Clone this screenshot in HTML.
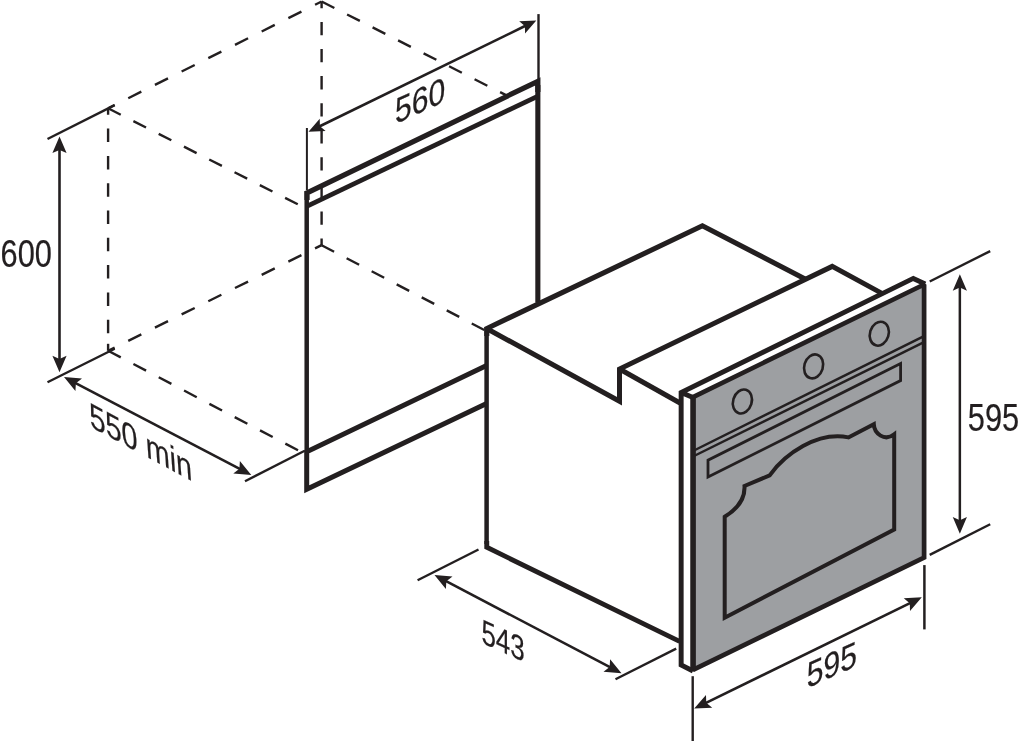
<!DOCTYPE html>
<html><head><meta charset="utf-8"><title>Oven dimensions</title>
<style>
html,body{margin:0;padding:0;background:#fff;}
svg{display:block;will-change:transform;font-family:"Liberation Sans",sans-serif;}
</style></head><body>
<svg width="1019" height="741" viewBox="0 0 1019 741">
<rect width="1019" height="741" fill="#fff"/>
<line x1="321.60" y1="1.50" x2="108.10" y2="108.30" stroke="#231f20" stroke-width="2.4" stroke-linecap="butt" stroke-dasharray="14.62 15.22" stroke-dashoffset="7.31"/>
<line x1="321.60" y1="1.50" x2="321.60" y2="245.20" stroke="#231f20" stroke-width="2.4" stroke-linecap="butt" stroke-dasharray="13.27 13.81" stroke-dashoffset="6.63"/>
<line x1="108.10" y1="108.30" x2="108.10" y2="343.30" stroke="#231f20" stroke-width="2.4" stroke-linecap="butt" stroke-dasharray="13.5 13.8" stroke-dashoffset="7"/>
<line x1="108.10" y1="343.80" x2="108.10" y2="350.80" stroke="#231f20" stroke-width="2.4" stroke-linecap="butt"/>
<line x1="108.10" y1="350.80" x2="321.60" y2="245.20" stroke="#231f20" stroke-width="2.4" stroke-linecap="butt" stroke-dasharray="14.59 15.18" stroke-dashoffset="7.29"/>
<line x1="108.10" y1="108.30" x2="297.80" y2="204.30" stroke="#231f20" stroke-width="2.4" stroke-linecap="butt" stroke-dasharray="14.17 14.17" stroke-dashoffset="0"/>
<line x1="108.10" y1="350.80" x2="298.00" y2="450.20" stroke="#231f20" stroke-width="2.4" stroke-linecap="butt" stroke-dasharray="14.29 14.29" stroke-dashoffset="0"/>
<line x1="321.60" y1="245.20" x2="484.30" y2="330.00" stroke="#231f20" stroke-width="2.4" stroke-linecap="butt" stroke-dasharray="14.11 14.11" stroke-dashoffset="0"/>
<line x1="321.60" y1="1.50" x2="512.85" y2="98.66" stroke="#231f20" stroke-width="2.4" stroke-linecap="butt" stroke-dasharray="14.30 14.30" stroke-dashoffset="0"/>
<path d="M500,99 L538,81 L538,96 L500,114 Z" fill="#fff" stroke="none" stroke-width="0" stroke-linejoin="miter" stroke-linecap="butt" stroke-miterlimit="10"/>
<line x1="306.90" y1="128.00" x2="306.90" y2="190.00" stroke="#231f20" stroke-width="2.0" stroke-linecap="butt"/>
<line x1="538.50" y1="14.10" x2="538.50" y2="79.00" stroke="#231f20" stroke-width="2.4" stroke-linecap="butt"/>
<line x1="306.70" y1="191.00" x2="306.70" y2="452.00" stroke="#231f20" stroke-width="4.5" stroke-linecap="butt"/>
<path d="M307.05,200 L307.05,192.9 L537.85,81.3 L537.85,92" fill="none" stroke="#231f20" stroke-width="5.2" stroke-linejoin="miter" stroke-linecap="butt" stroke-miterlimit="10"/>
<line x1="537.85" y1="85.00" x2="537.85" y2="302.60" stroke="#231f20" stroke-width="5.1" stroke-linecap="butt"/>
<path d="M306.7,206.3 L538,96.1" fill="none" stroke="#231f20" stroke-width="4.7" stroke-linejoin="miter" stroke-linecap="butt" stroke-miterlimit="10"/>
<path d="M486.6,365.4 L306.7,451.7 L306.7,489.2 L486.6,403.5" fill="none" stroke="#231f20" stroke-width="5.0" stroke-linejoin="miter" stroke-linecap="butt" stroke-miterlimit="10"/>
<line x1="319.28" y1="126.53" x2="525.52" y2="25.77" stroke="#231f20" stroke-width="2.6" stroke-linecap="butt"/>
<polygon points="308.50,131.80 319.71,118.82 319.94,126.21 325.63,130.94" fill="#231f20"/>
<polygon points="536.30,20.50 525.09,33.48 524.86,26.09 519.17,21.36" fill="#231f20"/>
<line x1="47.50" y1="139.00" x2="114.70" y2="105.10" stroke="#231f20" stroke-width="2.4" stroke-linecap="butt"/>
<line x1="47.50" y1="382.20" x2="114.70" y2="348.70" stroke="#231f20" stroke-width="2.4" stroke-linecap="butt"/>
<line x1="59.50" y1="148.50" x2="59.50" y2="360.30" stroke="#231f20" stroke-width="2.6" stroke-linecap="butt"/>
<polygon points="59.50,136.50 66.60,153.10 59.50,149.90 52.40,153.10" fill="#231f20"/>
<polygon points="59.50,372.30 52.40,355.70 59.50,358.90 66.60,355.70" fill="#231f20"/>
<line x1="245.00" y1="481.30" x2="304.70" y2="450.80" stroke="#231f20" stroke-width="2.4" stroke-linecap="butt"/>
<line x1="74.63" y1="382.56" x2="240.67" y2="469.44" stroke="#231f20" stroke-width="2.6" stroke-linecap="butt"/>
<polygon points="64.00,377.00 82.00,378.40 75.87,383.21 75.42,390.99" fill="#231f20"/>
<polygon points="251.30,475.00 233.30,473.60 239.43,468.79 239.88,461.01" fill="#231f20"/>
<line x1="486.60" y1="327.00" x2="486.60" y2="544.00" stroke="#231f20" stroke-width="4.5" stroke-linecap="butt"/>
<path d="M486.8,336 L486.8,328.5 L702.4,225.8 L805.6,279.2" fill="none" stroke="#231f20" stroke-width="5.1" stroke-linejoin="miter" stroke-linecap="butt" stroke-miterlimit="10"/>
<path d="M486.75,541 L486.75,547.3 L679.6,641.4" fill="none" stroke="#231f20" stroke-width="4.9" stroke-linejoin="miter" stroke-linecap="butt" stroke-miterlimit="10"/>
<path d="M486.6,328.5 L619.5,401.2 L619.5,369 L832.2,266.4 L882.4,293.6" fill="none" stroke="#231f20" stroke-width="5.0" stroke-linejoin="miter" stroke-linecap="butt" stroke-miterlimit="10"/>
<path d="M619.5,369 L680,403" fill="none" stroke="#231f20" stroke-width="4.9" stroke-linejoin="miter" stroke-linecap="butt" stroke-miterlimit="10"/>
<path d="M693.0,397.1 L924.1,284.5 L924.1,557.6 L693.0,669.9 Z" fill="#9d9fa2" stroke="#231f20" stroke-width="4.7" stroke-linejoin="miter" stroke-linecap="butt" stroke-miterlimit="1.5"/>
<line x1="693.10" y1="398.00" x2="693.10" y2="669.00" stroke="#231f20" stroke-width="5.4" stroke-linecap="butt"/>
<path d="M693.0,671 L681.15,665 L681.15,392.5 L913.3,278.4 L925.2,284.0 M681.15,392.5 L693.0,397.5" fill="none" stroke="#231f20" stroke-width="4.95" stroke-linejoin="miter" stroke-linecap="butt" stroke-miterlimit="10"/>
<line x1="694.00" y1="450.50" x2="924.00" y2="336.20" stroke="#231f20" stroke-width="2.5" stroke-linecap="butt"/>
<line x1="694.00" y1="456.00" x2="924.00" y2="342.10" stroke="#231f20" stroke-width="2.5" stroke-linecap="butt"/>
<path d="M900.6,363.6 L900.6,380.6 L708,477 L708,460.2 Z" fill="none" stroke="#231f20" stroke-width="2.8" stroke-linejoin="miter" stroke-linecap="butt" stroke-miterlimit="10"/>
<ellipse cx="742.4" cy="401.5" rx="9.3" ry="12.2" transform="rotate(17 742.4 401.5)" fill="none" stroke="#231f20" stroke-width="2.6"/>
<ellipse cx="813.6" cy="366.4" rx="9.3" ry="12.2" transform="rotate(17 813.6 366.4)" fill="none" stroke="#231f20" stroke-width="2.6"/>
<ellipse cx="879.3" cy="333.7" rx="9.3" ry="12.2" transform="rotate(17 879.3 333.7)" fill="none" stroke="#231f20" stroke-width="2.6"/>
<path d="M724.7,617.8 L724.7,516.8 Q745.5,504 744.5,486 L769.7,475.3 C785,454 817,431.3 848.4,437.4 L873.8,424.2 C874.2,433.5 884.6,442 894.2,434.3 L894.2,529.5 Z" fill="none" stroke="#231f20" stroke-width="4.0" stroke-linejoin="miter" stroke-linecap="butt" stroke-miterlimit="10"/>
<line x1="929.70" y1="281.50" x2="990.20" y2="251.10" stroke="#231f20" stroke-width="2.4" stroke-linecap="butt"/>
<line x1="929.70" y1="554.90" x2="990.20" y2="524.20" stroke="#231f20" stroke-width="2.4" stroke-linecap="butt"/>
<line x1="959.85" y1="286.20" x2="959.85" y2="521.70" stroke="#231f20" stroke-width="2.5" stroke-linecap="butt"/>
<polygon points="959.85,274.20 966.95,290.80 959.85,287.60 952.75,290.80" fill="#231f20"/>
<polygon points="959.85,533.70 952.75,517.10 959.85,520.30 966.95,517.10" fill="#231f20"/>
<line x1="692.70" y1="676.20" x2="692.70" y2="741.00" stroke="#231f20" stroke-width="2.4" stroke-linecap="butt"/>
<line x1="924.40" y1="565.10" x2="924.40" y2="629.40" stroke="#231f20" stroke-width="2.5" stroke-linecap="butt"/>
<line x1="704.98" y1="703.33" x2="911.02" y2="602.57" stroke="#231f20" stroke-width="2.6" stroke-linecap="butt"/>
<polygon points="694.20,708.60 705.99,694.93 706.24,702.71 712.23,707.69" fill="#231f20"/>
<polygon points="921.80,597.30 910.01,610.97 909.76,603.19 903.77,598.21" fill="#231f20"/>
<line x1="417.60" y1="580.30" x2="478.50" y2="549.50" stroke="#231f20" stroke-width="2.4" stroke-linecap="butt"/>
<line x1="615.50" y1="679.20" x2="676.20" y2="648.60" stroke="#231f20" stroke-width="2.4" stroke-linecap="butt"/>
<line x1="445.12" y1="580.58" x2="610.88" y2="667.72" stroke="#231f20" stroke-width="2.6" stroke-linecap="butt"/>
<polygon points="434.50,575.00 452.50,576.44 446.36,581.23 445.89,589.01" fill="#231f20"/>
<polygon points="621.50,673.30 603.50,671.86 609.64,667.07 610.11,659.29" fill="#231f20"/>
<text transform="matrix(0.7820,0.0000,0.0000,1.0000,0.6,267.0)" font-size="39.4" fill="#231f20" stroke="#231f20" stroke-width="0.2">600</text>
<text transform="matrix(0.7820,0.0000,0.0000,1.0000,967.8,430.7)" font-size="39.4" fill="#231f20" stroke="#231f20" stroke-width="0.2">595</text>
<text transform="matrix(0.8350,-0.3799,0.0000,1.0000,395.0,124.2)" font-size="36.1" fill="#231f20" stroke="#231f20" stroke-width="0.2">560</text>
<text transform="matrix(0.8000,0.4280,0.0700,1.0000,90.2,426.7)" font-size="36.1" fill="#231f20" stroke="#231f20" stroke-width="0.2">550 min</text>
<text transform="matrix(0.7200,0.3240,0.0000,0.9600,481.4,642.8)" font-size="36.1" fill="#231f20" stroke="#231f20" stroke-width="0.2">543</text>
<text transform="matrix(0.8350,-0.3799,0.0000,1.0000,806.8,688.4)" font-size="36.1" fill="#231f20" stroke="#231f20" stroke-width="0.2">595</text>
</svg>
</body></html>
